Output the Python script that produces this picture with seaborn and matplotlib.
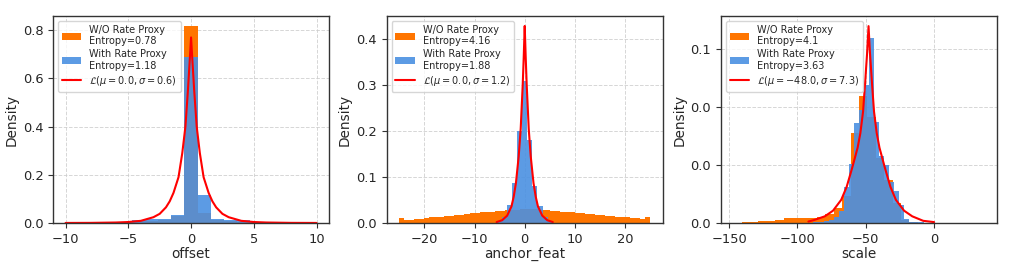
import numpy as np
import pandas as pd
import matplotlib
matplotlib.use("Agg")
import matplotlib.pyplot as plt
from matplotlib.ticker import FuncFormatter
import seaborn as sns

# ---- offset ----
offset_edges = np.linspace(-10, 10, 20)
offset_wo = [0.0002, 0.0004, 0.0008, 0.002, 0.004, 0.007, 0.010, 0.014, 0.028, 0.818,
             0.040, 0.012, 0.009, 0.006, 0.003, 0.002, 0.0008, 0.0004, 0.0002]
offset_with = [0.0003, 0.0005, 0.001, 0.003, 0.006, 0.011, 0.015, 0.018, 0.032, 0.687,
               0.117, 0.017, 0.014, 0.011, 0.006, 0.003, 0.001, 0.0005, 0.0003]
offset_curve_x = [-10, -8, -6, -5, -4, -3, -2.5, -2.0, -1.7, -1.4, -1.0, -0.7, -0.45, -0.25, -0.1, 0,
                  0.1, 0.25, 0.45, 0.7, 1.0, 1.4, 1.7, 2.0, 2.5, 3, 4, 5, 6, 8, 10]
offset_curve_y = [0.0002, 0.0005, 0.002, 0.004, 0.009, 0.024, 0.038, 0.065, 0.09, 0.125, 0.19, 0.29, 0.40, 0.55, 0.68, 0.77,
                  0.68, 0.55, 0.40, 0.29, 0.19, 0.125, 0.09, 0.065, 0.038, 0.024, 0.009, 0.004, 0.002, 0.0005, 0.0002]

# ---- anchor_feat ----
anchor_wo_edges = np.linspace(-25, 25, 51)
anchor_wo = [0.011, 0.0065, 0.0075, 0.0085, 0.0095, 0.011, 0.012, 0.013, 0.014, 0.015,
             0.016, 0.017, 0.018, 0.020, 0.021, 0.022, 0.023, 0.024, 0.025, 0.026,
             0.027, 0.028, 0.029, 0.029, 0.030, 0.030, 0.030, 0.030, 0.029, 0.028,
             0.027, 0.026, 0.025, 0.024, 0.023, 0.022, 0.021, 0.020, 0.019, 0.018,
             0.017, 0.016, 0.015, 0.014, 0.013, 0.012, 0.011, 0.010, 0.009, 0.0137]
anchor_with_edges = np.linspace(-5.6, 5.6, 12)
anchor_with = [0.004, 0.012, 0.040, 0.087, 0.20, 0.31, 0.18, 0.08, 0.036, 0.012, 0.004]
anchor_curve_x = [-5.6, -4.5, -3.5, -2.64, -2.2, -1.75, -1.2, -0.8, -0.4, -0.2, 0,
                  0.2, 0.4, 0.8, 1.2, 1.75, 2.2, 2.64, 3.5, 4.5, 5.6]
anchor_curve_y = [0.002, 0.006, 0.016, 0.036, 0.057, 0.087, 0.145, 0.205, 0.30, 0.36, 0.429,
                  0.36, 0.30, 0.205, 0.145, 0.087, 0.057, 0.036, 0.016, 0.006, 0.002]

# ---- scale ----
scale_wo_edges = np.linspace(-147, 37, 31)
scale_wo = [0.0002, 0.0004, 0.0007, 0.0012, 0.0017, 0.0024, 0.0036, 0.0035, 0.0033, 0.0036,
            0.0040, 0.006, 0.0103, 0.0184, 0.062, 0.088, 0.073, 0.045, 0.030, 0.014,
            0.002, 0.0006, 0.0003, 0.0002, 0.0001, 0.0001, 0, 0, 0, 0]
scale_with_edges = np.linspace(-92, 0, 26)
scale_with = [0.0003, 0.0005, 0.0008, 0.0012, 0.002, 0.004, 0.008, 0.025, 0.041, 0.069,
              0.078, 0.095, 0.128, 0.070, 0.046, 0.040, 0.028, 0.022, 0.0126, 0.003,
              0.001, 0.0006, 0.0004, 0.0002, 0.0001]
scale_curve_x = [-92, -88, -80, -74, -68, -64, -60, -56, -54, -52, -50.5, -49, -48,
                 -47, -45.5, -44, -42, -40, -36, -32, -28, -22, -16, -8, 0]
scale_curve_y = [0.001, 0.002, 0.0046, 0.0085, 0.016, 0.025, 0.038, 0.052, 0.062, 0.077, 0.097, 0.118, 0.136,
                 0.118, 0.097, 0.077, 0.062, 0.052, 0.038, 0.025, 0.016, 0.0085, 0.0046, 0.0015, 0.0006]

panels = [
    ("offset", offset_edges, offset_wo, offset_edges, offset_with, offset_curve_x, offset_curve_y,
     "0.78", "1.18", r"$\mathcal{L}(\mu=0.0, \sigma=0.6)$", (-11, 11), (0, 0.859),
     [-10, -5, 0, 5, 10], [0, 0.2, 0.4, 0.6, 0.8]),
    ("anchor_feat", anchor_wo_edges, anchor_wo, anchor_with_edges, anchor_with, anchor_curve_x, anchor_curve_y,
     "4.16", "1.88", r"$\mathcal{L}(\mu=0.0, \sigma=1.2)$", (-27.5, 27.5), (0, 0.4507),
     [-20, -10, 0, 10, 20], [0, 0.1, 0.2, 0.3, 0.4]),
    ("scale", scale_wo_edges, scale_wo, scale_with_edges, scale_with, scale_curve_x, scale_curve_y,
     "4.1", "3.63", r"$\mathcal{L}(\mu=-48.0, \sigma=7.3)$", (-156, 46), (0, 0.143),
     [-150, -100, -50, 0], [0, 0.04, 0.08, 0.12]),
]

sns.set_style("ticks")
plt.rcParams['font.family'] = ['DejaVu Sans']

fig = plt.figure(figsize=(10.16, 2.66), dpi=100)
lefts = [0.0522, 0.3806, 0.7096]


def binned(edges, vals):
    # one row per bin: bin centre and its density as weight
    edges = np.asarray(edges, dtype=float)
    return pd.DataFrame({"x": (edges[:-1] + edges[1:]) / 2, "w": vals})


for left, p in zip(lefts, panels):
    (name, e_wo, v_wo, e_with, v_with, cx, cy, ent_wo, ent_with, lab, xlim, ylim, xt, yt) = p
    ax = fig.add_axes([left, 0.1617, 0.2717, 0.7782])
    lab_wo = f"W/O Rate Proxy\nEntropy={ent_wo}"
    lab_with = f"With Rate Proxy\nEntropy={ent_with}"
    sns.histplot(data=binned(e_wo, v_wo), x="x", weights="w", bins=list(e_wo), ax=ax,
                 color="#ff7500", alpha=1.0, linewidth=0, label=lab_wo)
    sns.histplot(data=binned(e_with, v_with), x="x", weights="w", bins=list(e_with), ax=ax,
                 color="#4a90e2", alpha=0.9, linewidth=0, label=lab_with)
    sns.lineplot(x=cx, y=cy, ax=ax, color="red", linewidth=1.5, estimator=None, label=lab)
    ax.set_xlim(xlim)
    ax.set_ylim(ylim)
    ax.set_xticks(xt)
    ax.set_yticks(yt)
    ax.yaxis.set_major_formatter(FuncFormatter(lambda v, _: f"{v:.3f}"[:3]))
    ax.tick_params(labelsize=9.4, length=3.5, color="#333333")
    ax.set_xlabel(name, fontsize=9.8, labelpad=1)
    ax.set_ylabel("Density", fontsize=9.8, labelpad=3)
    ax.grid(True, linestyle="--", color="#cccccc", linewidth=0.7, alpha=0.8)
    ax.set_axisbelow(True)
    for s in ax.spines.values():
        s.set_color("#333333")
        s.set_linewidth(1.0)
    handles, labels = ax.get_legend_handles_labels()
    order = [labels.index(lab_wo), labels.index(lab_with), labels.index(lab)]
    ax.legend([handles[i] for i in order], [labels[i] for i in order],
              loc="upper left", fontsize=7, borderaxespad=0.5, handlelength=2.0,
              labelspacing=0.3, borderpad=0.4, framealpha=0.8)

fig.savefig("out.png", dpi=100)
